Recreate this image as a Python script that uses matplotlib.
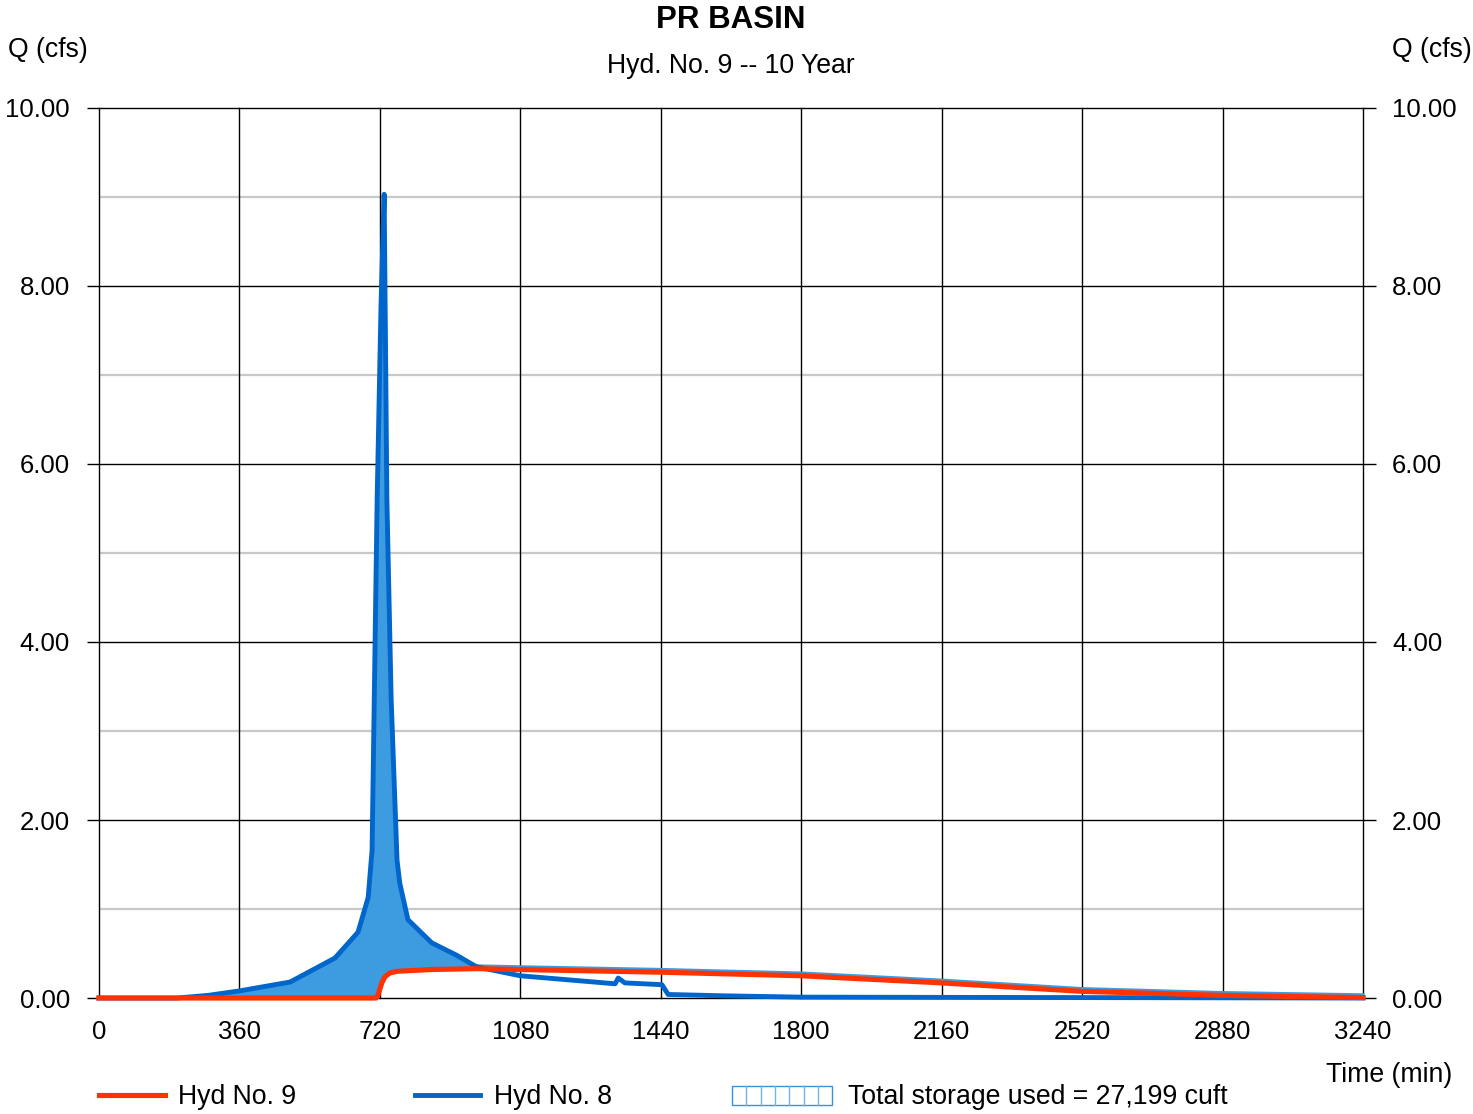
import numpy as np
import matplotlib
matplotlib.use("Agg")
import matplotlib.pyplot as plt
from matplotlib.lines import Line2D
from matplotlib.patches import Rectangle

plt.rcParams['font.family'] = ['Liberation Sans', 'DejaVu Sans']

# Hyd No. 8 (inflow)
t8 = [0, 200, 280, 360, 490, 605, 664, 690, 700, 713, 723, 731, 738, 749, 764, 771,
      792, 853, 917, 968, 1080, 1323, 1331, 1348, 1443, 1459, 1600, 1800, 3240]
q8 = [0, 0, 0.03, 0.08, 0.18, 0.45, 0.74, 1.13, 1.66, 5.6, 7.8, 9.03, 5.6, 3.35, 1.55, 1.29,
      0.88, 0.62, 0.48, 0.35, 0.25, 0.16, 0.225, 0.17, 0.15, 0.04, 0.025, 0.01, 0.0]

# Hyd No. 9 (outflow)
t9 = [0, 710, 715, 725, 733, 745, 763, 850, 968, 1080, 1440, 1800, 2160, 2520, 2880, 3240]
q9 = [0, 0, 0.03, 0.17, 0.24, 0.28, 0.30, 0.32, 0.33, 0.32, 0.29, 0.25, 0.17, 0.075, 0.03, 0.005]

xticks = [0, 360, 720, 1080, 1440, 1800, 2160, 2520, 2880, 3240]
yticks = [0, 2, 4, 6, 8, 10]
yminor = [1, 3, 5, 7, 9]

RED = '#ff3300'
BLUE = '#0066cc'
FILL = '#3d9be0'
FS = 19.2

fig = plt.figure(figsize=(14.73, 11.14), dpi=100)
ax = fig.add_axes([0.0672, 0.1041, 0.8581, 0.7990])

# common grid for storage fill
tt = np.union1d(t8, t9)
in_q = np.interp(tt, t8, q8)
out_q = np.interp(tt, t9, q9)
ax.fill_between(tt, out_q, in_q, where=in_q >= out_q, interpolate=True,
                color=FILL, lw=0, zorder=2)
tail = tt >= 960
ax.plot(tt[tail], out_q[tail] + 0.03, color=FILL, lw=2.4, zorder=3, clip_on=False)

ax.plot(t8, q8, color=BLUE, lw=3.5, zorder=4, solid_joinstyle='round', clip_on=False)
ax.plot(t9, q9, color=RED, lw=3.7, zorder=5, solid_joinstyle='round', clip_on=False)

ax.set_xlim(0, 3240)
ax.set_ylim(0, 10)
ax.set_xticks(xticks)
ax.set_yticks(yticks)
ax.set_yticks(yminor, minor=True)
ax.set_yticklabels([f"{v:.2f}" for v in yticks])

for y in yminor:
    ax.axhline(y, color='#c8c8c8', lw=1.6, zorder=1)
for y in yticks:
    ax.axhline(y, color='black', lw=1.0, zorder=1, clip_on=False)
for x in xticks:
    ax.axvline(x, color='black', lw=1.0, zorder=1, clip_on=False)

for s in ax.spines.values():
    s.set_visible(False)

ax.tick_params(axis='y', which='major', length=9, width=1, color='black',
               labelsize=18.5, pad=12, left=True, right=True,
               labelleft=True, labelright=True)
ax.tick_params(axis='y', which='minor', length=0)
ax.tick_params(axis='x', length=0, labelsize=18.5, pad=16)

fig.text(0.4963, 0.9820, "PR BASIN", ha='center', va='center',
         fontsize=22.5, fontweight='bold')
fig.text(0.4963, 0.9407, "Hyd. No. 9 -- 10 Year", ha='center', va='center', fontsize=FS)
fig.text(0.0054, 0.9552, "Q (cfs)", ha='left', va='center', fontsize=FS)
fig.text(0.9993, 0.9552, "Q (cfs)", ha='right', va='center', fontsize=FS)
fig.text(0.9857, 0.0350, "Time (min)", ha='right', va='center', fontsize=FS)

# legend
ly = 0.0171
fig.add_artist(Line2D([0.0672, 0.112], [ly, ly], color=RED, lw=3.7))
fig.text(0.1208, ly - 0.0018, "Hyd No. 9", ha='left', va='center', fontsize=FS)
fig.add_artist(Line2D([0.2817, 0.3259], [ly, ly], color=BLUE, lw=3.5))
fig.text(0.3354, ly - 0.0018, "Hyd No. 8", ha='left', va='center', fontsize=FS)
bx0, bx1, by0, by1 = 0.497, 0.565, 0.0081, 0.0251
for xi in np.linspace(bx0, bx1, 8)[1:-1]:
    fig.add_artist(Line2D([xi, xi], [by0, by1], color='#6fb3ea', lw=1.0))
fig.add_artist(Rectangle((bx0, by0), bx1 - bx0, by1 - by0, fill=False,
                         edgecolor='#3d8fd8', lw=1.0, transform=fig.transFigure))
fig.text(0.5757, ly - 0.0018, "Total storage used = 27,199 cuft", ha='left', va='center',
         fontsize=FS)

fig.savefig("out.png", dpi=100)
